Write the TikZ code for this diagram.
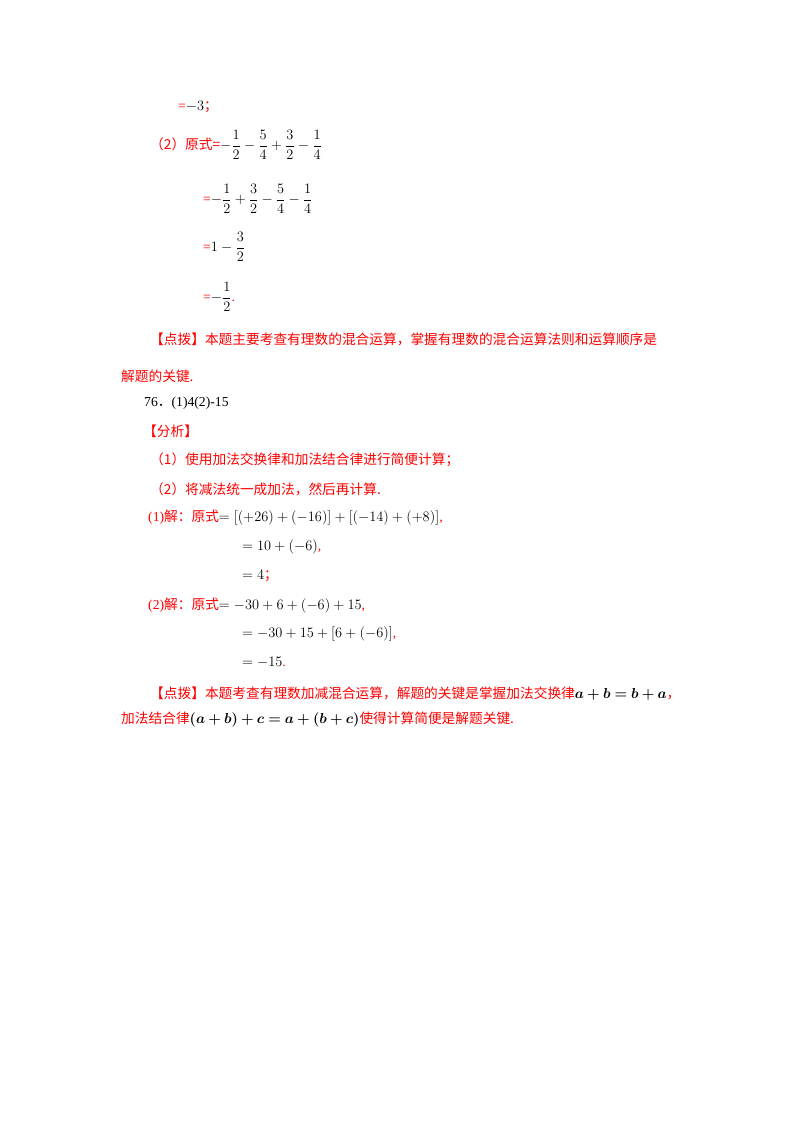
\documentclass[tikz,border=0pt]{standalone}
\usepackage{amsmath,amssymb,bm}
\usepackage{fontspec}
\setmainfont{Liberation Serif}
\newfontfamily\cjk{Noto Sans CJK SC}
\begin{document}
\begin{tikzpicture}[x=1pt,y=-1pt,
  t/.style={anchor=west,inner sep=0pt,font=\fontsize{13.7}{16}\selectfont},
  r/.style={t,text=red}]
\useasboundingbox[fill=white] (0,0) rectangle (800,1132);
\node[t] (a1) at (178,107) {\textcolor{red}{=}$-3$\textcolor{red}{\cjk ；}};
\node[t] (a2) at (150,145) {\textcolor{red}{\cjk （2）原式=}$-\dfrac{1}{2}-\dfrac{5}{4}+\dfrac{3}{2}-\dfrac{1}{4}$};
\node[t] (a3) at (203,199) {\textcolor{red}{=}$-\dfrac{1}{2}+\dfrac{3}{2}-\dfrac{5}{4}-\dfrac{1}{4}$};
\node[t] (a4) at (203,247) {\textcolor{red}{=}$1-\dfrac{3}{2}$};
\node[t] (a5) at (203,297) {\textcolor{red}{=}$-\dfrac{1}{2}$\textcolor{red}{.}};
\node[r] (b1) at (150,339) {\cjk 【点拨】本题主要考查有理数的混合运算，掌握有理数的混合运算法则和运算顺序是};
\node[r] (b2) at (121,376) {\cjk 解题的关键.};
\node[t] (c1) at (144,403) {76\cjk ．\rmfamily (1)4(2)-15};
\node[r] (c2) at (143,431) {\cjk 【分析】};
\node[r] (c3) at (150,460) {\cjk （1）使用加法交换律和加法结合律进行简便计算；};
\node[r] (c4) at (150,489) {\cjk （2）将减法统一成加法，然后再计算.};
\node[t] (d1) at (148,518) {\textcolor{red}{(1)\cjk 解：原式}$=[(+26)+(-16)]+[(-14)+(+8)]$\textcolor{red}{,}};
\node[t] (d2) at (242,547) {$=10+(-6)$\textcolor{red}{,}};
\node[t] (d3) at (242,576) {$=4$\textcolor{red}{\cjk ；}};
\node[t] (d4) at (148,606) {\textcolor{red}{(2)\cjk 解：原式}$=-30+6+(-6)+15$\textcolor{red}{,}};
\node[t] (d5) at (242,634) {$=-30+15+[6+(-6)]$\textcolor{red}{,}};
\node[t] (d6) at (242,662) {$=-15$\textcolor{red}{.}};
\node[r] (e1) at (150,694) {\cjk 【点拨】本题考查有理数加减混合运算，解题的关键是掌握加法交换律\textcolor{black}{$\bm{a+b=b+a}$}，};
\node[r] (e2) at (121,720) {\cjk 加法结合律\textcolor{black}{$\bm{(a+b)+c=a+(b+c)}$}使得计算简便是解题关键.};
\end{tikzpicture}
\end{document}
